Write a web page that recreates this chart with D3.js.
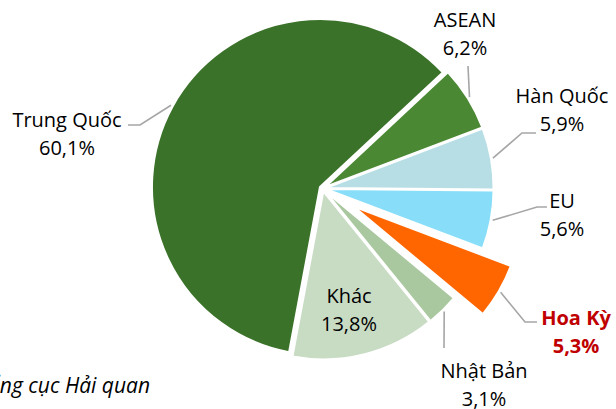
<!DOCTYPE html>
<html>
<head>
<meta charset="utf-8">
<script src="https://cdn.jsdelivr.net/npm/d3@7"></script>
<style>
  body { margin: 0; background: #fff; }
  svg { display: block; font-family: "Open Sans", sans-serif; }
</style>
</head>
<body>
<div id="root"></div>
<script>
// share of imports by market (%)
const markets = ["Trung Quốc", "ASEAN", "Hàn Quốc", "EU", "Hoa Kỳ", "Nhật Bản", "Khác"];
const shares = [60.1, 6.2, 5.9, 5.6, 5.3, 3.1, 13.8];
const colors = ["#3b7229", "#4a8833", "#b7dee5", "#88def8", "#ff6600", "#a9c89f", "#c8dbc3"];
const source = "Nguồn: Tổng cục Hải quan";

const main = () => {
  const width = 616, height = 409;
  const cx = 322.6, cy = 188.5, r = 168;
  const startDeg = 190.6;
  const fontSize = 20, lineGap = 28;

  // label placement: [x, y] of first line, leader elbow + end (null = no leader)
  const layout = {
    "Trung Quốc": { at: [67, 127], leader: [[140, 125], [128, 125]] },
    "ASEAN": { at: [465, 27], leader: [[468, 66]] },
    "Hàn Quốc": { at: [562, 103], leader: [[522, 133], [536, 133]] },
    "EU": { at: [562, 208], leader: [[537, 207], [547, 207]] },
    "Hoa Kỳ": { at: [576, 325], leader: [[525, 322], [537, 322]], bold: true, fill: "#c00000" },
    "Nhật Bản": { at: [484, 378], leader: [[444, 348]] },
    "Khác": { at: [349, 303], leader: null },
  };
  const explode = { "Hoa Kỳ": 36 };
  const baseExplode = 3;

  const svg = d3
    .select("#root")
    .append("svg")
    .attr("width", width)
    .attr("height", height);

  const data = markets.map((m, i) => ({ market: m, share: shares[i], color: colors[i] }));

  const start = (startDeg * Math.PI) / 180;
  const pie = d3
    .pie()
    .sort(null)
    .value((d) => d.share)
    .startAngle(start)
    .endAngle(start + 2 * Math.PI);

  const arc = d3.arc().innerRadius(0).outerRadius(r);
  const arcs = pie(data);

  const offset = (d) => {
    const mid = (d.startAngle + d.endAngle) / 2;
    const e = explode[d.data.market] || baseExplode;
    return [Math.sin(mid) * e, -Math.cos(mid) * e];
  };

  const g = svg.append("g").attr("transform", `translate(${cx},${cy})`);

  g.selectAll("path.slice")
    .data(arcs)
    .join("path")
    .attr("class", "slice")
    .attr("transform", (d) => `translate(${offset(d)})`)
    .attr("d", arc)
    .attr("fill", (d) => d.data.color)
    .attr("stroke", "#fff")
    .attr("stroke-width", 2)
    .attr("stroke-linejoin", "round");

  // leader lines
  const line = d3.line();
  arcs.forEach((d) => {
    const lay = layout[d.data.market];
    if (!lay.leader) return;
    const mid = (d.startAngle + d.endAngle) / 2;
    const [ox, oy] = offset(d);
    const rr = r + 2;
    const p0 = [cx + ox + Math.sin(mid) * rr, cy + oy - Math.cos(mid) * rr];
    svg
      .append("path")
      .attr("d", line([p0, ...lay.leader]))
      .attr("fill", "none")
      .attr("stroke", "#a6a6a6")
      .attr("stroke-width", 1.6);
  });

  // labels
  const fmt = (v) => d3.format(".1f")(v).replace(".", ",") + "%";
  arcs.forEach((d) => {
    const lay = layout[d.data.market];
    const t = svg
      .append("text")
      .attr("x", lay.at[0])
      .attr("y", lay.at[1])
      .attr("text-anchor", "middle")
      .attr("font-size", fontSize)
      .attr("font-weight", lay.bold ? "bold" : null)
      .attr("fill", lay.fill || "#000");
    t.append("tspan").attr("x", lay.at[0]).text(d.data.market);
    t.append("tspan").attr("x", lay.at[0]).attr("dy", lineGap).text(fmt(d.data.share));
  });

  svg
    .append("text")
    .attr("x", 150)
    .attr("y", 393)
    .attr("text-anchor", "end")
    .attr("font-size", 21)
    .attr("font-style", "italic")
    .text(source);
};

main();
</script>
</body>
</html>
